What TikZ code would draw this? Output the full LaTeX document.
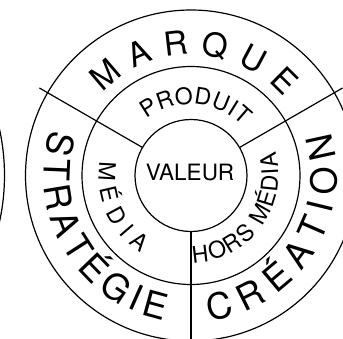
\documentclass[tikz,border=0pt]{standalone}
\usepackage{fontspec}
\setmainfont{TeX Gyre Heros}
\newlength\arcw
\newlength\arch
\newcommand\measw[2]{\pgfinterruptpicture\settowidth\arcw{#1#2}\global\arcw=\arcw\endpgfinterruptpicture}
\newcommand\meash[1]{\pgfinterruptpicture\settoheight\arch{#1H}\global\arch=\arch\endpgfinterruptpicture}
% #1 font, #2 radius of cap centres, #3 centre angle, #4 dir (+1 ccw tops inward, -1 cw tops outward), #5 tracking, #6 letters, #7 name prefix
\newcommand\arcword[7]{%
  \meash{#1}%
  \xdef\arcacc{0}%
  \foreach \ch in {#6}{%
    \measw{#1}{\ch}%
    \pgfmathsetmacro\tmp{\arcacc+\arcw+#5}%
    \xdef\arcacc{\tmp}%
  }%
  \pgfmathsetmacro\archalf{(\arcacc-#5)/2}%
  \pgfmathsetmacro\arcrb{#2+(#4)*\arch/2}%
  \xdef\arcpos{0}%
  \foreach \ch [count=\i] in {#6}{%
    \measw{#1}{\ch}%
    \pgfmathsetmacro\arcs{\arcpos+\arcw/2}%
    \pgfmathsetmacro\ang{#3+(#4)*(\arcs-\archalf)/#2*180/pi}%
    \node[letter, font={#1}, rotate={\ang+(#4)*90}] (#7\i) at (\ang:\arcrb) {\ch};
    \pgfmathsetmacro\tmp{\arcpos+\arcw+#5}%
    \xdef\arcpos{\tmp}%
  }%
}
\tikzset{
  ring/.style={draw=black, line width=1.2pt},
  letter/.style={inner sep=0pt, outer sep=0pt, anchor=base},
}
\begin{document}
\begin{tikzpicture}[x=1pt,y=1pt]
  \path[use as bounding box] (-191,-162.5) rectangle (152,175.5);
  \clip (-191,-162.5) rectangle (152,175.5);
  \fill[white] (-191,-162.5) rectangle (152,175.5);
  % partial neighbouring circle at the far left
  \draw[ring] (-401.5,0) circle (215);
  % rings
  \draw[ring] (0,0) circle (56);
  \draw[ring] (0,0) circle (109);
  \draw[ring] (0,0) circle (165.5);
  % dividers
  \foreach \a [count=\k] in {30,150,270}{
    \coordinate (in\k) at (\a:56);
    \coordinate (out\k) at (\a:175);
    \draw[ring] (in\k) -- (out\k);
  }
  \node[inner sep=0pt, font=\fontsize{22.5}{22.5}\selectfont] (valeur) at (-1,3.5) {VALEUR};
  \arcword{\fontsize{33}{33}\selectfont}{133}{88.5}{-1}{15.5}{M,A,R,Q,U,E}{mq}
  \arcword{\fontsize{36}{36}\selectfont}{134}{210.5}{1}{3.3}{S,T,R,A,T,É,G,I,E}{st}
  \arcword{\fontsize{36}{36}\selectfont}{133}{327.2}{1}{7}{C,R,É,A,T,I,O,N}{cr}
  \arcword{\fontsize{23}{23}\selectfont}{80}{85.9}{-1}{2.2}{P,R,O,D,U,I,T}{pr}
  \arcword{\fontsize{23}{23}\selectfont}{84}{204}{1}{6.4}{M,É,D,I,A}{me}
  \arcword{\fontsize{23}{23}\selectfont}{79}{323.5}{1}{0}{H,O,R,S,~,M,É,D,I,A}{hm}
\end{tikzpicture}
\end{document}
